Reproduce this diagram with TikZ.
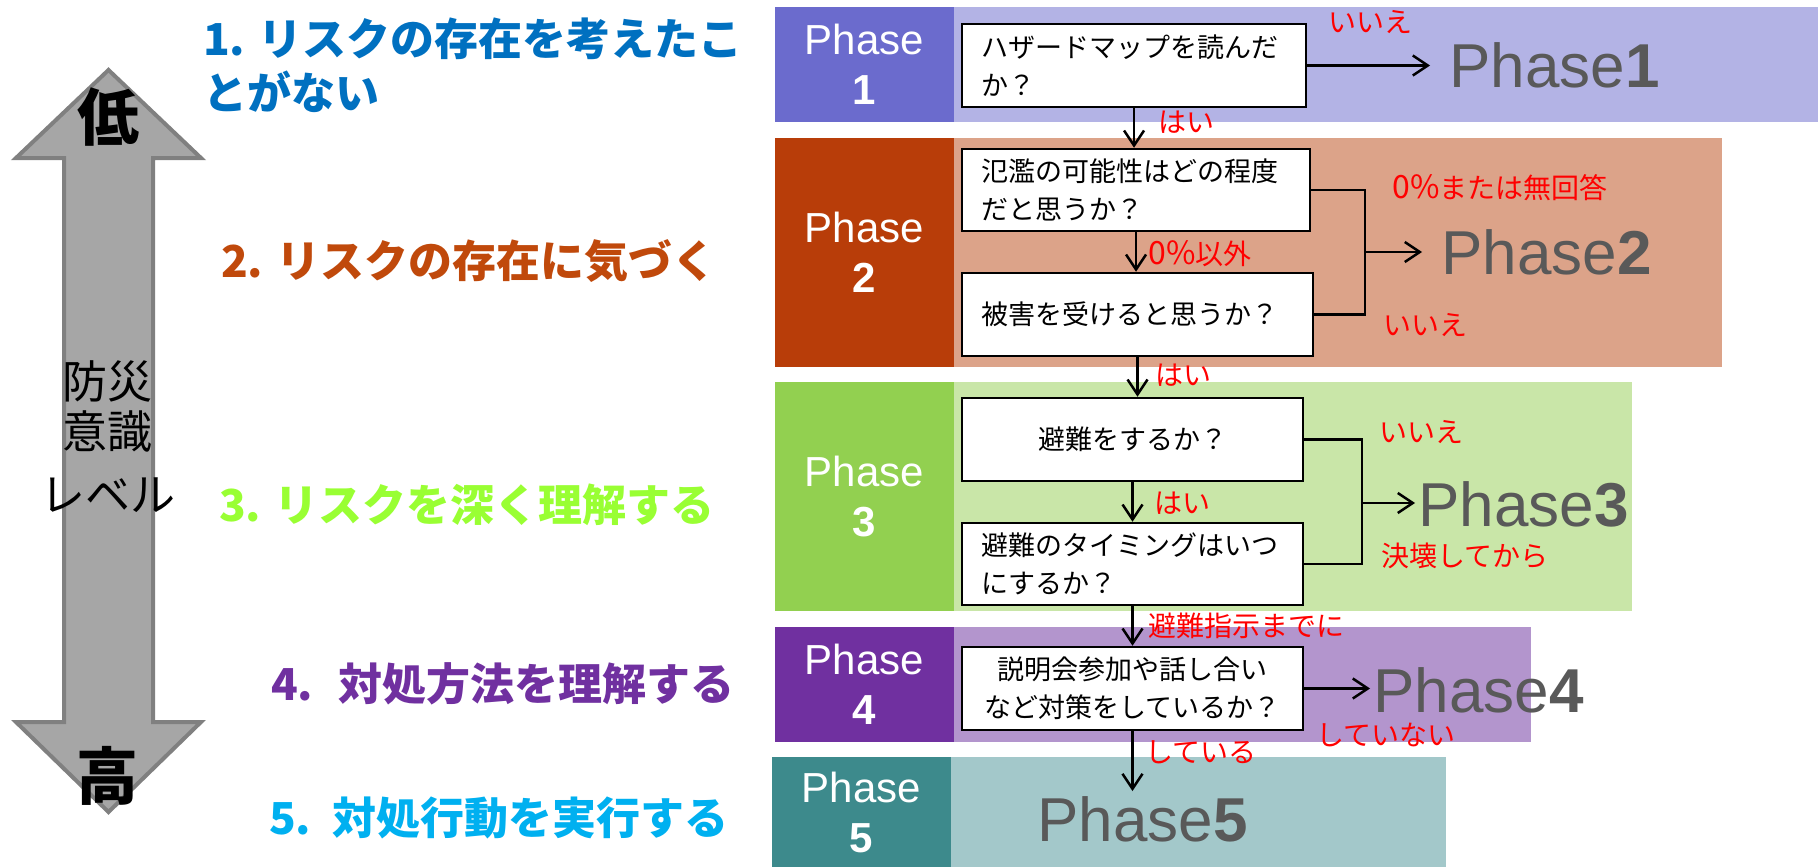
\documentclass[tikz,border=0pt]{standalone}
\usepackage{fontspec}
\setmainfont{Liberation Sans}
\newfontfamily\jp{Noto Sans CJK JP}
\usetikzlibrary{arrows.meta,calc}
\newcommand\fsz[2]{\fontsize{#1}{#2}\selectfont}
\definecolor{pAd}{HTML}{6B6BCD}\definecolor{pAl}{HTML}{B3B3E5}
\definecolor{pBd}{HTML}{B83D09}\definecolor{pBl}{HTML}{DCA389}
\definecolor{pCd}{HTML}{92D050}\definecolor{pCl}{HTML}{C9E6A8}
\definecolor{pDd}{HTML}{7030A0}\definecolor{pDl}{HTML}{B395CD}
\definecolor{pEd}{HTML}{3D8A8C}\definecolor{pEl}{HTML}{A3C8CA}
\definecolor{cA}{HTML}{0070C0}\definecolor{cB}{HTML}{C0490B}
\definecolor{cC}{HTML}{99FF33}\definecolor{cD}{HTML}{7030A0}
\definecolor{cE}{HTML}{00B0F0}
\definecolor{biggray}{HTML}{595959}
\definecolor{arrfill}{HTML}{A6A6A6}\definecolor{arredge}{HTML}{808080}
\tikzset{
  qbox/.style={draw=black, line width=2.5pt, fill=white, inner xsep=19pt, inner ysep=0pt, font=\jp\fsz{27}{38}},
  lbl/.style={text=red, font=\jp\fsz{28}{32}, inner sep=0pt},
  big/.style={text=biggray, font=\fsz{62}{70}, inner sep=0pt, anchor=west},
  phbox/.style={text=white, font=\fsz{42}{50}, align=center, inner sep=0pt, minimum width=179pt},
  arr/.style={-{Straight Barb[length=15pt,width=20pt,line width=2.5pt]}, line width=2.5pt},
  conn/.style={line width=2.5pt},
  lev/.style={font=\jp\bfseries\fsz{44}{54}, anchor=west, align=left, inner sep=0pt},
  side/.style={font=\jp\fsz{45}{50}, inner sep=0pt}
}
\begin{document}
\begin{tikzpicture}[x=1pt,y=-1pt]
\useasboundingbox (0,0) rectangle (1818,867);
% left double arrow
\draw[fill=arrfill, draw=arredge, line width=4pt, line join=miter]
  (108.5,70) -- (201,158) -- (153,158) -- (153,722) -- (201,722) -- (108.5,812)
  -- (16,722) -- (64,722) -- (64,158) -- (16,158) -- cycle;
\node[side, font=\jp\bfseries\fsz{62}{66}] (low) at (108,117) {低};
\node[side, font=\jp\bfseries\fsz{62}{66}] (high) at (107,776) {高};
\node[side] (s1) at (107,381) {防災};
\node[side] (s2) at (107,432) {意識};
\node[side] (s3) at (108,495) {レベル};
% level texts
\node[lev, text=cA] (t1) at (203,65) {1. リスクの存在を考えたこ\\とがない};
\node[lev, text=cB] (t2) at (221,261) {2. リスクの存在に気づく};
\node[lev, text=cC] (t3) at (219,505) {3. リスクを深く理解する};
\node[lev, text=cD] (t4) at (271,684) {4.\hspace{12pt} 対処方法を理解する};
\node[lev, text=cE] (t5) at (269,818) {5.\hspace{8pt} 対処行動を実行する};
% phase bands
\fill[pAl] (954,7) rectangle (1818,122);
\fill[pBl] (954,138) rectangle (1722,367);
\fill[pCl] (954,382) rectangle (1632,611);
\fill[pDl] (954,627) rectangle (1531,742);
\fill[pEl] (951,757) rectangle (1446,867);
\node[phbox, fill=pAd, minimum height=115pt] (ph1) at (864.5,64.5) {Phase\\\textbf{1}};
\node[phbox, fill=pBd, minimum height=229pt] (ph2) at (864.5,252.5) {Phase\\\textbf{2}};
\node[phbox, fill=pCd, minimum height=229pt] (ph3) at (864.5,496.5) {Phase\\\textbf{3}};
\node[phbox, fill=pDd, minimum height=115pt] (ph4) at (864.5,684.5) {Phase\\\textbf{4}};
\node[phbox, fill=pEd, minimum height=110pt] (ph5) at (861.5,812) {Phase\\\textbf{5}};
% question boxes
\node[qbox, minimum width=344pt, minimum height=83pt, text width=306pt, align=left] (q1) at (1134,65.5) {ハザードマップを読んだ\\か？};
\node[qbox, minimum width=348pt, minimum height=82pt, text width=310pt, align=left] (q2a) at (1136,190) {氾濫の可能性はどの程度\\だと思うか？};
\node[qbox, minimum width=351pt, minimum height=83pt, text width=313pt, align=left] (q2b) at (1137.5,314.5) {被害を受けると思うか？};
\node[qbox, minimum width=341pt, minimum height=83pt, text width=303pt, align=center] (q3a) at (1132.5,439.5) {避難をするか？};
\node[qbox, minimum width=341pt, minimum height=82pt, text width=303pt, align=left] (q3b) at (1132.5,564) {避難のタイミングはいつ\\にするか？};
\node[qbox, minimum width=341pt, minimum height=83pt, text width=303pt, align=center] (q4) at (1132.5,688.5) {説明会参加や話し合い\\など対策をしているか？};
% big phase texts
\node[big] (P1) at (1449,65.5) {Phase\textbf{1}};
\node[big] (P2) at (1441,252) {Phase\textbf{2}};
\node[big] (P3) at (1418,504) {Phase\textbf{3}};
\node[big] (P4) at (1373,690) {Phase\textbf{4}};
\node[big] (P5) at (1037,819) {Phase\textbf{5}};
% connectors
\coordinate (b2) at (1365,252);
\coordinate (b3) at (1362,503);
\draw[arr, shorten >=19pt] (q1.east) -- (q1.east -| P1.west);
\draw[arr] (q1.south) -- (q1.south |- q2a.north);
\draw[arr] (q2a.south) -- (q2a.south |- q2b.north);
\draw[conn] (q2a.east) -| (b2) |- (q2b.east);
\draw[arr, shorten >=19pt] (b2) -- (b2 -| P2.west);
\draw[arr] (q2b.south) -- (q2b.south |- q3a.north);
\draw[arr] (q3a.south) -- (q3a.south |- q3b.north);
\draw[conn] (q3a.east) -| (b3) |- (q3b.east);
\draw[arr, shorten >=3pt] (b3) -- (b3 -| P3.west);
\draw[arr] (q3b.south) -- (q3b.south |- q4.north);
\draw[arr, shorten >=3pt] (q4.east) -- (q4.east -| P4.west);
\draw[arr, shorten >=5pt] (q4.south) -- (q4.south |- P5.north);
% red labels
\node[lbl] (l1) at (1370,22) {いいえ};
\node[lbl] (l2) at (1186,122) {はい};
\node[lbl] (l3) at (1200,254) {{\fsz{32}{32}0\%}以外};
\node[lbl] (l4) at (1500,188) {{\fsz{32}{32}0\%}または無回答};
\node[lbl] (l5) at (1425,325) {いいえ};
\node[lbl] (l6) at (1183,375) {はい};
\node[lbl] (l7) at (1182,503) {はい};
\node[lbl] (l8) at (1421,432) {いいえ};
\node[lbl] (l9) at (1465,556) {決壊してから};
\node[lbl] (l10) at (1246,626) {避難指示までに};
\node[lbl] (l11) at (1386,735) {していない};
\node[lbl] (l12) at (1201,752) {している};
\end{tikzpicture}
\end{document}
